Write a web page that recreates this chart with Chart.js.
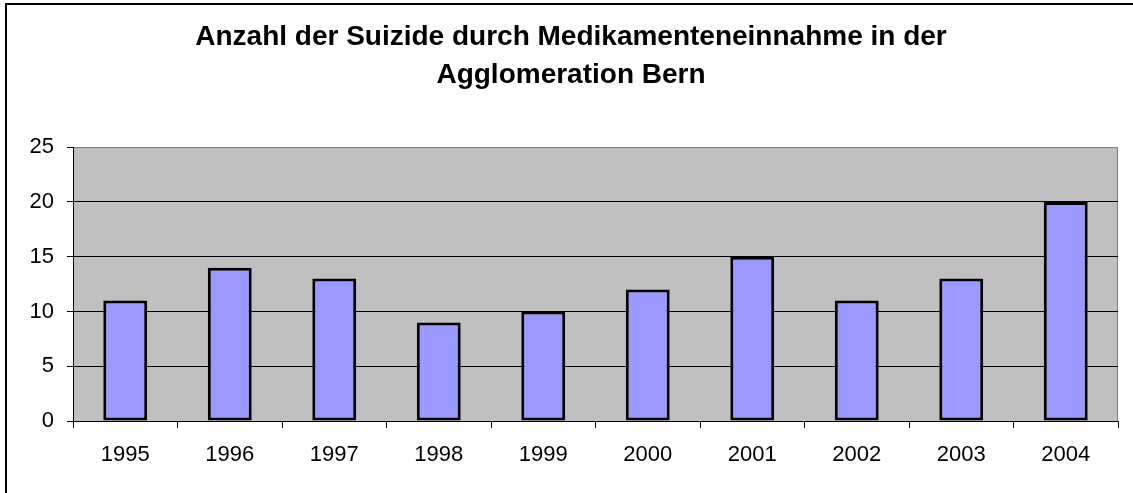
<!DOCTYPE html>
<html>
<head>
<meta charset="utf-8">
<script src="https://cdn.jsdelivr.net/npm/chart.js@4/dist/chart.umd.min.js"></script>
<style>
  html, body { margin: 0; padding: 0; background: #fff; }
  #wrap { position: relative; width: 1133px; height: 493px; overflow: hidden; }
  #frame { position: absolute; left: 5px; top: 3px; right: -10px; bottom: -10px;
           border-left: 2px solid #000; border-top: 2px solid #000; pointer-events: none; }
</style>
</head>
<body>
<div id="wrap">
  <canvas id="suizidChart" width="1133" height="493"></canvas>
  <div id="frame"></div>
</div>
<script>
// Daten
const years = ["1995", "1996", "1997", "1998", "1999", "2000", "2001", "2002", "2003", "2004"];
const suizide = [11, 14, 13, 9, 10, 12, 15, 11, 13, 20];
const yTicks = [0, 5, 10, 15, 20, 25];
const titleLines = ["Anzahl der Suizide durch Medikamenteneinnahme in der", "Agglomeration Bern"];

const FONT = "'Liberation Sans', Arial, sans-serif";

// grauer Hintergrund der Zeichnungsfläche
const plotBackground = {
  id: "plotBackground",
  beforeDraw(chart) {
    const { ctx, chartArea: a } = chart;
    ctx.save();
    ctx.fillStyle = "#c0c0c0";
    ctx.fillRect(a.left, a.top, a.right - a.left, a.bottom - a.top);
    ctx.strokeStyle = "#808080";
    ctx.lineWidth = 1;
    ctx.beginPath();
    ctx.moveTo(a.left, a.top + 0.5);
    ctx.lineTo(a.right - 0.5, a.top + 0.5);
    ctx.lineTo(a.right - 0.5, a.bottom);
    ctx.stroke();
    ctx.restore();
  }
};

const ctx = document.getElementById("suizidChart").getContext("2d");
new Chart(ctx, {
  type: "bar",
  data: {
    labels: years,
    datasets: [
      {
        label: "Suizide",
        data: suizide,
        backgroundColor: "#9999ff",
        borderColor: "#000000",
        borderWidth: 3,
        borderSkipped: false,
        barPercentage: 0.42,
        categoryPercentage: 1.0,
      },
    ],
  },
  options: {
    responsive: false,
    animation: false,
    devicePixelRatio: 1,
    layout: { padding: { left: 24, right: 15, top: 0, bottom: 0 } },
    plugins: {
      legend: { display: false },
      tooltip: { enabled: false },
      title: {
        display: true,
        text: titleLines,
        color: "#000",
        font: { family: FONT, size: 28, weight: "bold", lineHeight: 1.36 },
        padding: { top: 18, bottom: 53 },
      },
    },
    scales: {
      x: {
        offset: true,
        grid: {
          offset: true,
          drawOnChartArea: false,
          color: "#000",
          tickLength: 7,
        },
        border: { color: "#000", width: 1 },
        ticks: {
          color: "#000",
          padding: 14,
          font: { family: FONT, size: 22 },
        },
        afterFit: (s) => { s.height = 72; },
      },
      y: {
        min: 0,
        max: 25,
        afterBuildTicks: (s) => { s.ticks = yTicks.map((v) => ({ value: v })); },
        grid: {
          color: (c) => (c.tick && c.tick.value === 25 ? "#808080" : "#000"),
          tickColor: "#000",
          tickLength: 6,
        },
        border: { color: "#000", width: 1 },
        ticks: {
          color: "#000",
          padding: 13,
          font: { family: FONT, size: 22 },
        },
        afterFit: (s) => { s.width = 49; },
      },
    },
  },
  plugins: [plotBackground],
});
</script>
</body>
</html>
